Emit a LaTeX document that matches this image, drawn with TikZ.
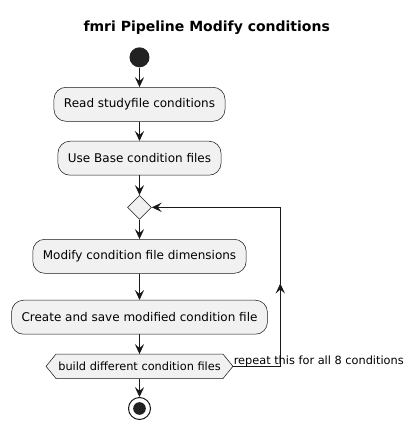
\documentclass[tikz,border=0pt]{standalone}
\usepackage{fontspec}
\setmainfont{DejaVu Sans}
\definecolor{ActivityFill}{HTML}{F1F1F1}
\definecolor{LineColour}{HTML}{181818}
\definecolor{StartFill}{HTML}{222222}
\usetikzlibrary{arrows.meta, shapes.geometric}
\pgfdeclarelayer{background}
\pgfsetlayers{background,main}

\begin{document}
\begin{tikzpicture}[x=0.75pt, y=-0.75pt,
    activity/.style={draw=LineColour, line width=0.4pt, fill=ActivityFill,
      rounded corners=9pt, minimum height=25.5pt, inner xsep=7.5pt,
      font=\fontsize{9}{11}\selectfont},
    flow/.style={draw=LineColour, line width=0.75pt,
      -{Stealth[length=7.5pt, width=7pt, inset=3pt]}},
  ]

    \def\colx{139.5}
    \def\loopx{280.3}
    \def\tip{7.5pt}

    \useasboundingbox (0,0) rectangle (414,430);

    % Titulo
    \node[font=\fontsize{10.5}{12}\selectfont\bfseries] (title) at (206.7,28) {fmri Pipeline Modify conditions};

    % Inicio y actividades
    \node[circle, fill=StartFill, minimum size=15pt, inner sep=0pt] (start) at (\colx,57.3) {};
    \node[activity] (read) at (\colx,104.3) {Read studyfile conditions};
    \node[activity] (base) at (\colx,158.2) {Use Base condition files};
    \node[diamond, draw=LineColour, line width=0.4pt, fill=ActivityFill,
      minimum width=18pt, minimum height=18pt, inner sep=0pt] (merge) at (\colx,207.3) {};
    \node[activity] (modify) at (\colx,256.3) {Modify condition file dimensions};
    \node[activity] (create) at (\colx,317.2) {Create and save modified condition file};
    \node[minimum height=18pt, inner xsep=9pt, font=\fontsize{8.5}{10}\selectfont] (build)
      at (\colx,366.3) {build different condition files};
    \begin{pgfonlayer}{background}
      \draw[draw=LineColour, line width=0.4pt, fill=ActivityFill]
        (build.west) -- ([xshift=\tip]build.north west) -- ([xshift=-\tip]build.north east)
        -- (build.east) -- ([xshift=-\tip]build.south east) -- ([xshift=\tip]build.south west) -- cycle;
    \end{pgfonlayer}

    % Final
    \node[circle, draw=LineColour, line width=0.75pt, minimum size=16.5pt, inner sep=0pt] (stop) at (\colx,408.5) {};
    \node[circle, fill=StartFill, minimum size=9.5pt, inner sep=0pt] (stopdot) at (stop) {};

    % Flechas principales
    \draw[flow] (start) -- (read);
    \draw[flow] (read) -- (base);
    \draw[flow] (base) -- (merge);
    \draw[flow] (merge) -- (modify);
    \draw[flow] (modify) -- (create);
    \draw[flow] (create) -- (build);
    \draw[flow] (build) -- (stop);

    % Bucle de repeticion
    \coordinate (loopbottom) at (\loopx,366.3);
    \coordinate (loopmid) at (\loopx,283.5);
    \coordinate (looptop) at (\loopx,207.3);
    \draw[flow] (build.east) -- (loopbottom) -- (loopmid);
    \draw[flow] (loopmid) -- (looptop) -- (merge.east);
    \node[anchor=base west, inner sep=0pt, font=\fontsize{8.5}{10}\selectfont] (repeatlabel)
      at (233.5,364) {repeat this for all 8 conditions};
\end{tikzpicture}
\end{document}
